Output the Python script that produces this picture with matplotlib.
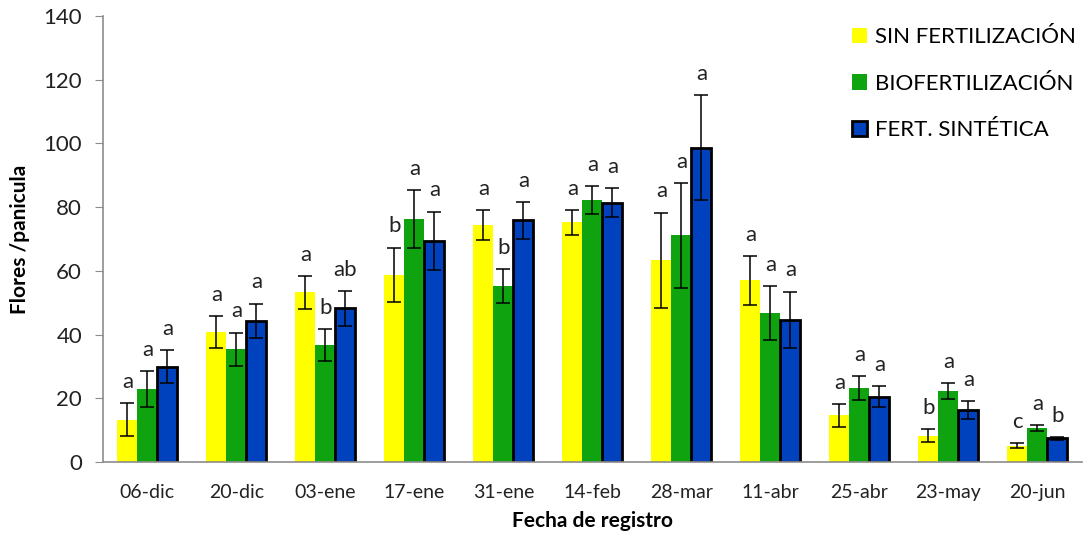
import matplotlib.pyplot as plt
import numpy as np

plt.rcParams['font.family'] = ['Lato', 'DejaVu Sans']

fechas = ['06-dic', '20-dic', '03-ene', '17-ene', '31-ene', '14-feb',
          '28-mar', '11-abr', '25-abr', '23-may', '20-jun']

# media de flores por panicula y error estandar por tratamiento
sin_fert = [13.2, 40.8, 53.2, 58.8, 74.5, 75.2, 63.3, 57.0, 14.6, 8.2, 5.1]
sin_fert_err = [5.2, 5.0, 5.1, 8.5, 4.7, 4.0, 15.0, 7.7, 3.5, 2.0, 0.8]
biofert = [22.9, 35.3, 36.7, 76.3, 55.2, 82.3, 71.1, 46.8, 23.2, 22.2, 10.6]
biofert_err = [5.7, 5.3, 5.1, 9.0, 5.4, 4.4, 16.4, 8.5, 3.8, 2.5, 0.9]
fert_sint = [29.9, 44.3, 48.2, 69.5, 75.8, 81.4, 98.6, 44.7, 20.5, 16.3, 7.4]
fert_sint_err = [5.2, 5.4, 5.5, 9.1, 5.7, 4.6, 16.5, 8.8, 3.4, 2.7, 0.4]

# letras de significancia (Tukey)
letras_sin = ['a', 'a', 'a', 'b', 'a', 'a', 'a', 'a', 'a', 'b', 'c']
letras_bio = ['a', 'a', 'b', 'a', 'b', 'a', 'a', 'a', 'a', 'a', 'a']
letras_sint = ['a', 'a', 'ab', 'a', 'a', 'a', 'a', 'a', 'a', 'a', 'b']

fig = plt.figure(figsize=(10.83, 5.34), dpi=100)
ax = fig.add_axes([0.095, 0.135, 0.904, 0.835])

x = np.arange(len(fechas))
w = 0.225
series = [
    (sin_fert, sin_fert_err, letras_sin, '#FFFF00', 'none', 'SIN FERTILIZACIÓN'),
    (biofert, biofert_err, letras_bio, '#0FA30F', 'none', 'BIOFERTILIZACIÓN'),
    (fert_sint, fert_sint_err, letras_sint, '#0041BE', 'black', 'FERT. SINTÉTICA'),
]

for k, (vals, errs, letras, color, edge, label) in enumerate(series):
    pos = x + (k - 1) * w
    ax.bar(pos, vals, w, color=color, edgecolor=edge,
           linewidth=2 if edge != 'none' else 0, label=label, zorder=2)
    ax.errorbar(pos, vals, yerr=errs, fmt='none', ecolor='black',
                elinewidth=1.1, capsize=5, capthick=1.1, zorder=3)
    for p, v, e, t in zip(pos, vals, errs, letras):
        ax.text(p, v + e + 3.5, t, ha='center', va='bottom', fontsize=16,
                color='#222222')

ax.set_xlim(-0.5, len(fechas) - 0.5)
ax.set_ylim(0, 140)
ax.set_yticks(range(0, 141, 20))
ax.set_xticks(x)
ax.set_xticklabels(fechas)

for s in ['top', 'right']:
    ax.spines[s].set_visible(False)
for s in ['left', 'bottom']:
    ax.spines[s].set_color('#8c8c8c')
    ax.spines[s].set_linewidth(1.2)

ax.tick_params(axis='y', length=6, color='#8c8c8c', labelsize=16, pad=9,
               labelcolor='#222222')
ax.tick_params(axis='x', length=0, labelsize=14, pad=16, labelcolor='#222222')

ax.set_ylabel('Flores /panicula', fontsize=15, fontweight='bold', labelpad=10)
ax.set_xlabel('Fecha de registro', fontsize=15, fontweight='bold', labelpad=7)

ax.legend(loc='upper right', bbox_to_anchor=(1.01, 1.01), frameon=False,
          fontsize=16, handlelength=0.7, handleheight=0.7, handletextpad=0.35,
          labelspacing=1.2, borderaxespad=0.3)

fig.savefig('out.png', dpi=100)
